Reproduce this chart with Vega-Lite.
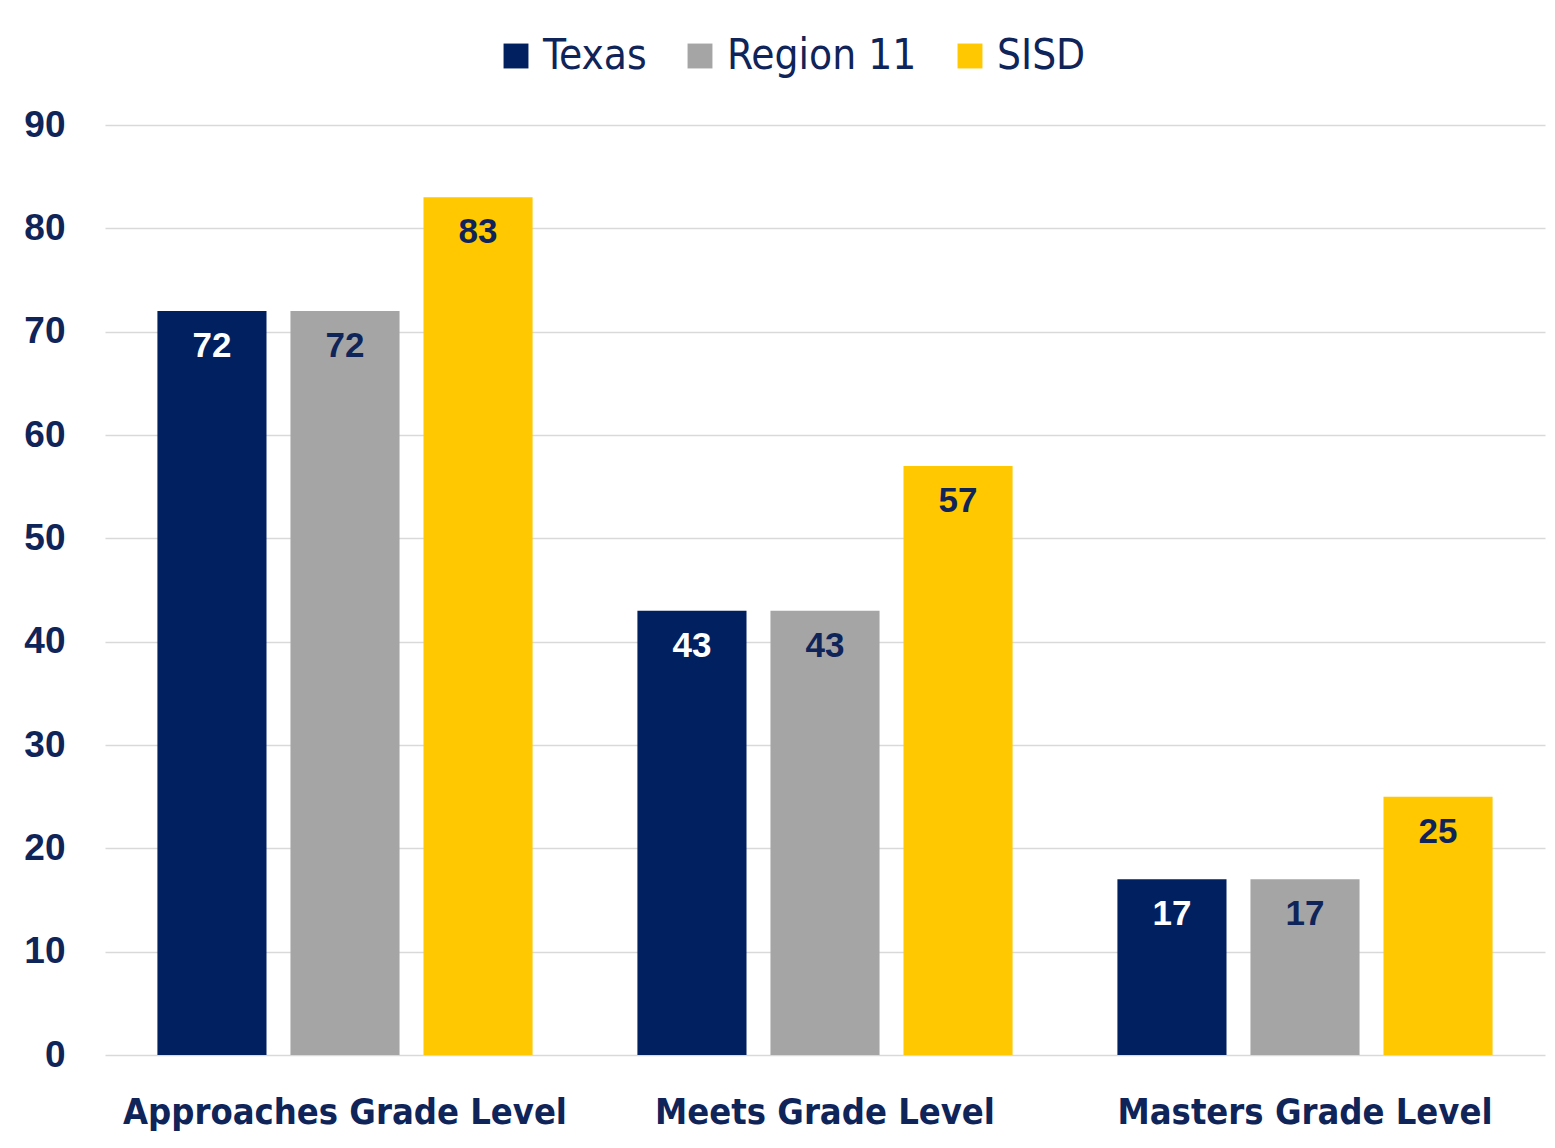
{
  "$schema": "https://vega.github.io/schema/vega-lite/v6.json",
  "width": 1440,
  "height": 930,
  "autosize": {"type": "none"},
  "padding": {"left": 105, "top": 125, "right": 10, "bottom": 93},
  "background": "white",
  "config": {"view": {"stroke": null}},
  "data": {
    "values": [
      {"level": "Approaches Grade Level", "group": "Texas", "value": 72},
      {"level": "Approaches Grade Level", "group": "Region 11", "value": 72},
      {"level": "Approaches Grade Level", "group": "SISD", "value": 83},
      {"level": "Meets Grade Level", "group": "Texas", "value": 43},
      {"level": "Meets Grade Level", "group": "Region 11", "value": 43},
      {"level": "Meets Grade Level", "group": "SISD", "value": 57},
      {"level": "Masters Grade Level", "group": "Texas", "value": 17},
      {"level": "Masters Grade Level", "group": "Region 11", "value": 17},
      {"level": "Masters Grade Level", "group": "SISD", "value": 25}
    ]
  },
  "encoding": {
    "x": {
      "field": "level", "type": "nominal",
      "sort": ["Approaches Grade Level", "Meets Grade Level", "Masters Grade Level"],
      "scale": {"paddingInner": 0, "paddingOuter": 0},
      "axis": {
        "title": null, "labelAngle": 0, "ticks": false, "domain": false,
        "labelFont": "DejaVu Sans Condensed", "labelFontWeight": "bold", "labelLimit": 0,
        "labelFontSize": 36, "labelColor": "#0F2459", "labelPadding": 40
      }
    },
    "xOffset": {
      "field": "group", "type": "nominal",
      "sort": ["Texas", "Region 11", "SISD"],
      "scale": {"paddingInner": 0.18, "paddingOuter": 0.394}
    },
    "y": {
      "field": "value", "type": "quantitative",
      "scale": {"domain": [0, 90], "nice": false},
      "axis": {
        "title": null, "values": [0, 10, 20, 30, 40, 50, 60, 70, 80, 90],
        "ticks": false, "domain": false,
        "labelFont": "Liberation Sans", "labelFontWeight": "bold",
        "labelFontSize": 37, "labelColor": "#0F2459", "labelPadding": 40,
        "gridColor": "#D9D9D9", "gridWidth": 1.5
      }
    }
  },
  "layer": [
    {
      "mark": {"type": "bar"},
      "encoding": {
        "color": {
          "field": "group", "type": "nominal",
          "sort": ["Texas", "Region 11", "SISD"],
          "scale": {"domain": ["Texas", "Region 11", "SISD"], "range": ["#002060", "#A5A5A5", "#FFC800"]},
          "legend": {
            "title": null, "orient": "none", "direction": "horizontal",
            "legendX": 390, "legendY": -90, "labelLimit": 0,
            "symbolType": "square", "symbolSize": 620, "symbolStrokeWidth": 0,
            "labelFont": "DejaVu Sans Condensed", "labelFontSize": 42,
            "labelColor": "#0F2459", "columnPadding": 32, "labelOffset": 6
          }
        }
      }
    },
    {
      "mark": {"type": "text", "baseline": "top", "dy": 18, "font": "Liberation Sans", "fontWeight": "bold", "fontSize": 35},
      "encoding": {
        "text": {"field": "value", "type": "quantitative"},
        "color": {
          "condition": {"test": "datum.group === 'Texas'", "value": "white"},
          "value": "#0F2459"
        }
      }
    }
  ]
}
